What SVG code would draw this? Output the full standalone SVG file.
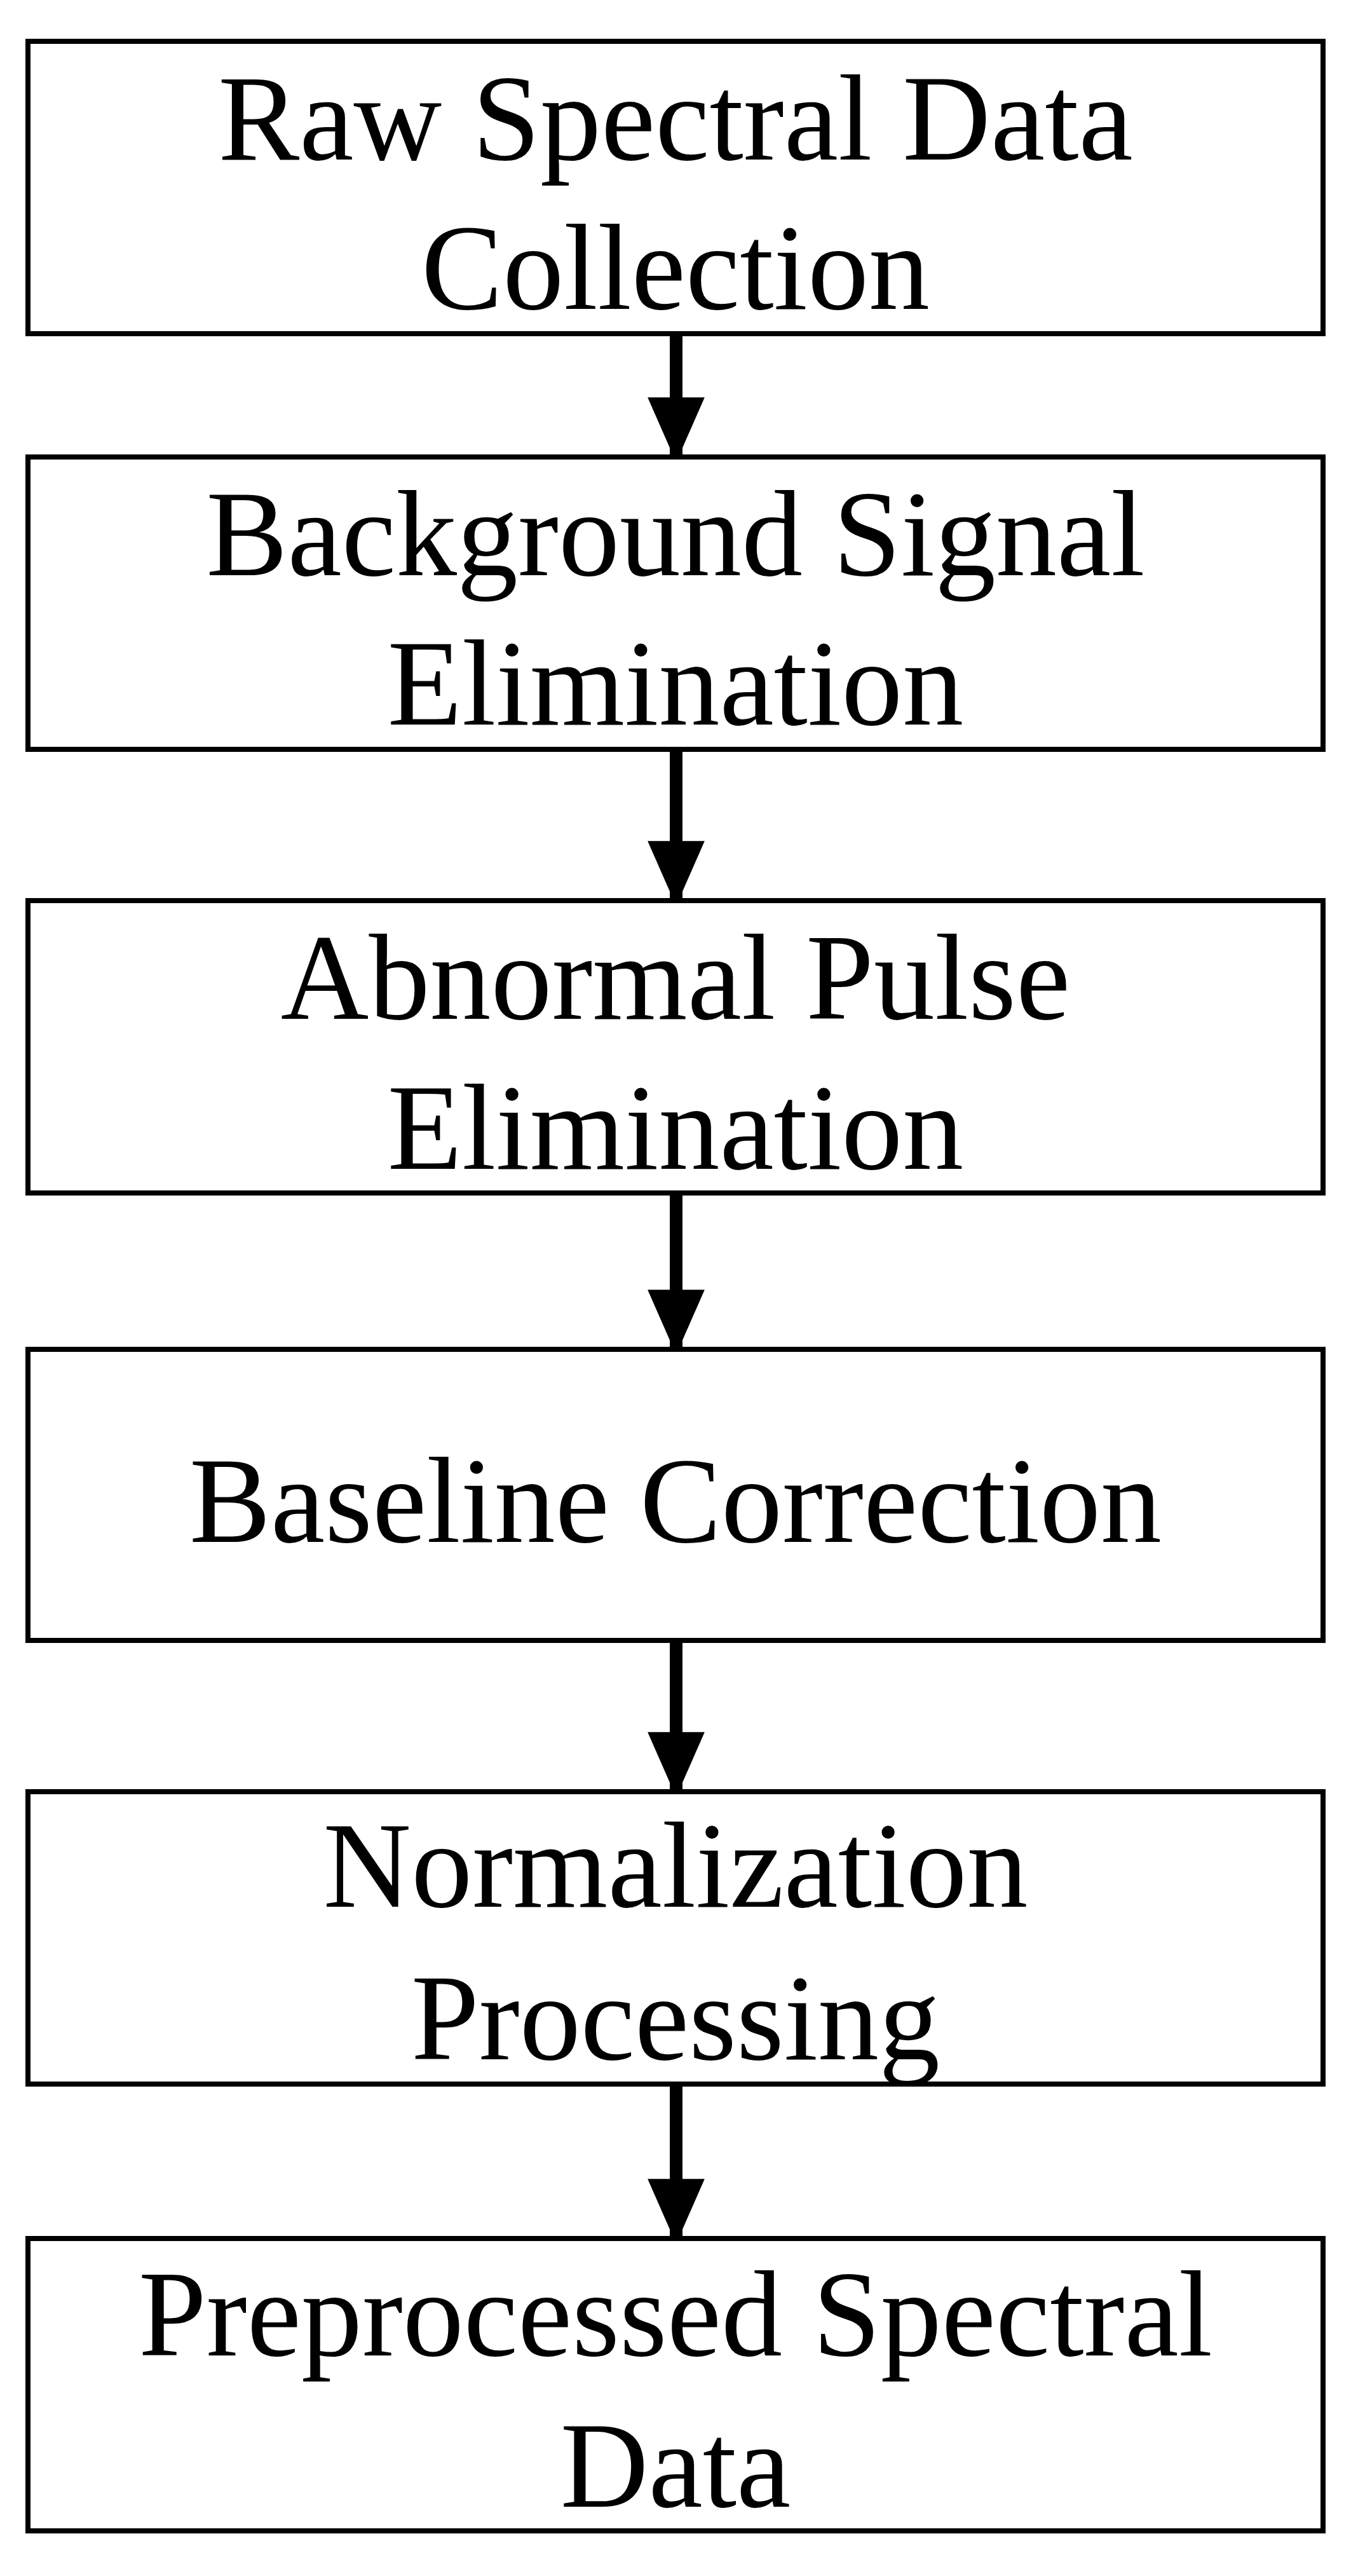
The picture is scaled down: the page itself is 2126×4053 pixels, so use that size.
<svg xmlns="http://www.w3.org/2000/svg" width="2126" height="4053" viewBox="0 0 2126 4053">
<style>
.b{fill:#fff;stroke:#000;stroke-width:8}
.t{font-family:"Liberation Serif",serif;font-size:192px;text-anchor:middle;fill:#000}
.s{stroke:#000;stroke-width:20}
</style>
<defs><marker id="a" markerUnits="userSpaceOnUse" markerWidth="102" markerHeight="116" refX="102" refY="51" orient="auto" viewBox="0 0 116 102"><path d="M0,0L116,51L0,102z"/></marker></defs>
<rect width="2126" height="4053" fill="#fff"/>
<g id="connectors">
<line class="s" x1="1064" y1="525" x2="1064" y2="715" marker-end="url(#a)"/>
<line class="s" x1="1064" y1="1179" x2="1064" y2="1413" marker-end="url(#a)"/>
<line class="s" x1="1064" y1="1877" x2="1064" y2="2119" marker-end="url(#a)"/>
<line class="s" x1="1064" y1="2581" x2="1064" y2="2815" marker-end="url(#a)"/>
<line class="s" x1="1064" y1="3279" x2="1064" y2="3518" marker-end="url(#a)"/>
</g>
<g id="n1"><rect class="b" x="44" y="65" width="2038" height="460"/><text class="t" x="1063" y="251">Raw Spectral Data</text><text class="t" x="1063" y="486">Collection</text></g>
<g id="n2"><rect class="b" x="44" y="719" width="2038" height="460"/><text class="t" x="1063" y="905">Background Signal</text><text class="t" x="1063" y="1140">Elimination</text></g>
<g id="n3"><rect class="b" x="44" y="1417" width="2038" height="460"/><text class="t" x="1063" y="1603">Abnormal Pulse</text><text class="t" x="1063" y="1839">Elimination</text></g>
<g id="n4"><rect class="b" x="44" y="2123" width="2038" height="458"/><text class="t" x="1063" y="2426">Baseline Correction</text></g>
<g id="n5"><rect class="b" x="44" y="2819" width="2038" height="460"/><text class="t" x="1063" y="3000">Normalization</text><text class="t" x="1063" y="3240">Processing</text></g>
<g id="n6"><rect class="b" x="44" y="3522" width="2038" height="460"/><text class="t" x="1063" y="3706">Preprocessed Spectral</text><text class="t" x="1063" y="3944">Data</text></g>
</svg>
